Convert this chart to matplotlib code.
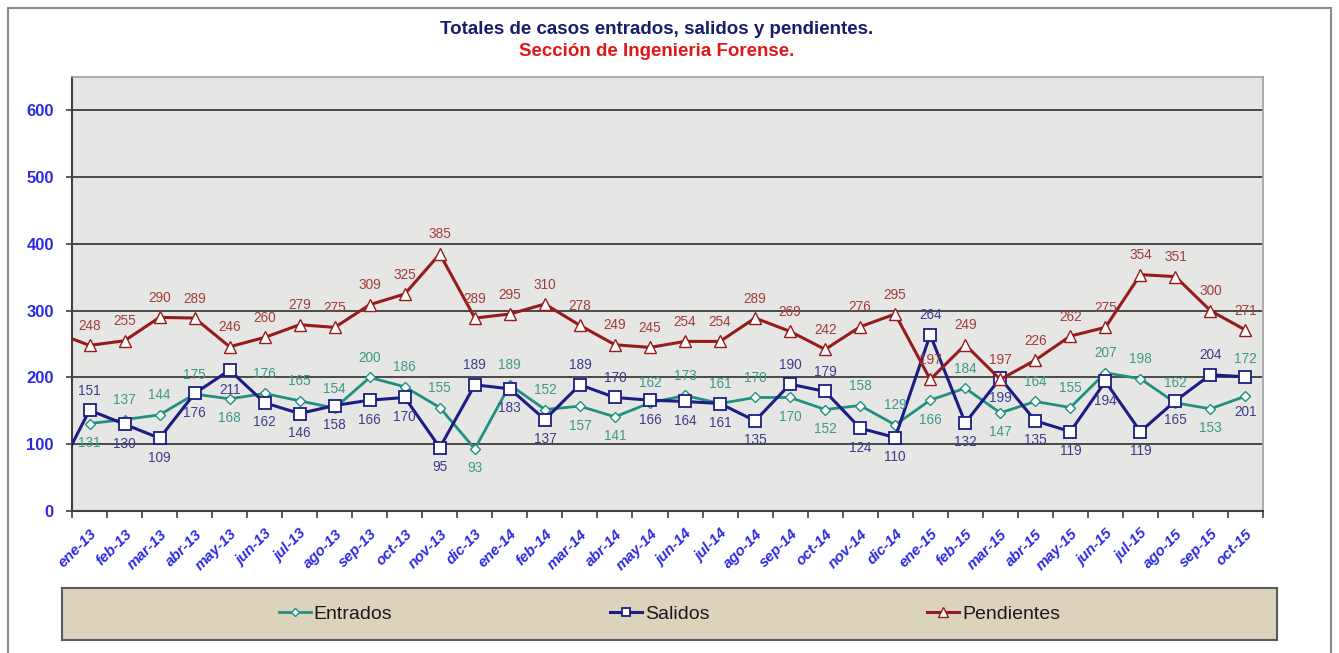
import numpy as np
import matplotlib
matplotlib.use('Agg')
import matplotlib.pyplot as plt
from matplotlib.patches import Rectangle
import matplotlib.transforms as mtransforms

plt.rcParams['font.family'] = ['Liberation Sans', 'DejaVu Sans']

# ---------------- data ----------------
months = ['ene-13', 'feb-13', 'mar-13', 'abr-13', 'may-13', 'jun-13', 'jul-13', 'ago-13',
          'sep-13', 'oct-13', 'nov-13', 'dic-13', 'ene-14', 'feb-14', 'mar-14', 'abr-14',
          'may-14', 'jun-14', 'jul-14', 'ago-14', 'sep-14', 'oct-14', 'nov-14', 'dic-14',
          'ene-15', 'feb-15', 'mar-15', 'abr-15', 'may-15', 'jun-15', 'jul-15', 'ago-15',
          'sep-15', 'oct-15']

entrados = [131, 137, 144, 175, 168, 176, 165, 154, 200, 186, 155, 93,
            189, 152, 157, 141, 162, 173, 161, 170, 170, 152, 158, 129,
            166, 184, 147, 164, 155, 207, 198, 162, 153, 172]

salidos = [151, 130, 109, 176, 211, 162, 146, 158, 166, 170, 95, 189,
           183, 137, 189, 170, 166, 164, 161, 135, 190, 179, 124, 110,
           264, 132, 199, 135, 119, 194, 119, 165, 204, 201]

pendientes = [248, 255, 290, 289, 246, 260, 279, 275, 309, 325, 385, 289,
              295, 310, 278, 249, 245, 254, 254, 289, 269, 242, 276, 295,
              197, 249, 197, 226, 262, 275, 354, 351, 300, 271]

# value of the month before the first shown one (only its segment is visible)
prev_salidos = 49
prev_pendientes = 268

# label placement (positive = above the marker, negative = below; magnitude = distance factor)
pos_entrados = [-1, 1, 1, 1, -1, 1, 1, 1, 1, 1, 1, -1,
                1, 1, -1, -1, 1, 1, 1, 1, -1, -1, 1, 1,
                -1, 1, -1, 1, 1, 1, 1, 1, -1, 1.9]
pos_salidos = [1, -1, -1, -1, -1, -1, -1, -1, -1, -1, -1, 1,
               -1, -1, 1, 1, -1, -1, -1, -1, 1, 1, -1, -1,
               1, -1, -1, -1, -1, -1, -1, -1, 1, -1.8]
pos_pendientes = [1] * len(months)

# ---------------- figure ----------------
W, H = 1339, 653
fig = plt.figure(figsize=(W / 100, H / 100), dpi=100)
fig.patch.set_facecolor('white')
fig.patches.append(Rectangle((8 / W, -0.05), (1331 - 8) / W, 1 - 8 / H + 0.05,
                             transform=fig.transFigure, fill=False,
                             edgecolor='#8a8a8a', linewidth=1.5))

ax = fig.add_axes([72 / W, 1 - 511 / H, (1263 - 72) / W, (511 - 77) / H])
ax.set_facecolor('#e6e6e4')

x = np.arange(len(months)) + 0.5
xp = np.r_[-0.5, x]

c_ent, c_sal, c_pen = '#21907f', '#1c1c84', '#961c1c'
l_ent, = ax.plot(x, entrados, color=c_ent, lw=2.0, marker='D', ms=5,
                 mfc='white', mec=c_ent, mew=1.0, label='Entrados', zorder=3)
l_sal, = ax.plot(xp, [prev_salidos] + salidos, color=c_sal, lw=2.2, marker='s', ms=8,
                 mfc='white', mec=c_sal, mew=1.3, label='Salidos', zorder=4,
                 markevery=list(range(1, len(xp))))
l_pen, = ax.plot(xp, [prev_pendientes] + pendientes, color=c_pen, lw=2.2, marker='^', ms=9,
                 mfc='white', mec=c_pen, mew=1.0, label='Pendientes', zorder=5,
                 markevery=list(range(1, len(xp))))

for vals, pos, col in [(entrados, pos_entrados, '#3a9a8a'),
                       (salidos, pos_salidos, '#3c3c8e'),
                       (pendientes, pos_pendientes, '#a23c3c')]:
    for xi, v, p in zip(x, vals, pos):
        ax.annotate(str(v), (xi, v), xytext=(0, 14 * p), textcoords='offset points',
                    ha='center', va='center', fontsize=9.8, color=col, zorder=6)

ax.set_xlim(0, len(months))
ax.set_ylim(0, 650)
ax.set_yticks(range(0, 700, 100))
ax.yaxis.grid(True, color='#3c3c3c', lw=1.3)
ax.set_axisbelow(True)

ax.set_xticks(np.arange(0, len(months) + 1))
ax.set_xticklabels([])
ax.tick_params(axis='x', which='major', length=5, width=1.2, color='#404040', direction='out')
ax.set_xticks(x, minor=True)
ax.set_xticklabels(months, minor=True, rotation=45, ha='right', va='center',
                   rotation_mode='anchor', fontsize=10.8, fontweight='bold',
                   fontstyle='italic', color='#2a2ae6')
ax.tick_params(axis='x', which='minor', length=0, pad=15)
off = mtransforms.ScaledTranslation(5 / 100, 0, fig.dpi_scale_trans)
for lab in ax.get_xticklabels(minor=True):
    lab.set_transform(lab.get_transform() + off)

ax.tick_params(axis='y', length=4, width=1.2, color='#404040', pad=9,
               labelsize=12, labelcolor='#2a2ae6')
for lab in ax.get_yticklabels():
    lab.set_fontweight('bold')

for s in ['left', 'bottom']:
    ax.spines[s].set_color('#404040')
    ax.spines[s].set_linewidth(1.5)
for s in ['top', 'right']:
    ax.spines[s].set_color('#a0a0a0')
    ax.spines[s].set_linewidth(1.2)

# titles
fig.text(657 / W, 1 - 30 / H, 'Totales de casos entrados, salidos y pendientes.',
         ha='center', va='center', fontsize=13.5, fontweight='bold', color='#1c1c6c')
fig.text(657 / W, 1 - 52 / H, 'Sección de Ingenieria Forense.',
         ha='center', va='center', fontsize=13.5, fontweight='bold', color='#e01818')

# legend box
lax = fig.add_axes([62 / W, 1 - 640 / H, (1277 - 62) / W, 52 / H])
lax.set_facecolor('#dcd3bd')
lax.set_xticks([])
lax.set_yticks([])
for s in lax.spines.values():
    s.set_color('#5a5a5a')
    s.set_linewidth(1.5)
lax.legend([l_ent, l_sal, l_pen], ['Entrados', 'Salidos', 'Pendientes'],
           loc='center', ncol=3, frameon=False, fontsize=14,
           handlelength=1.65, handletextpad=0.15, columnspacing=11.2,
           markerscale=0.8, labelcolor='#1a1a1a')

fig.savefig('out.png', dpi=100, facecolor='white')
